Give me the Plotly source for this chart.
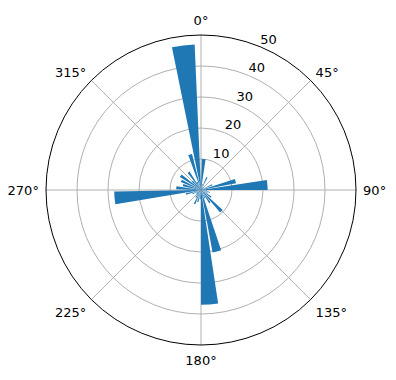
import plotly.graph_objects as go

# bar centers (degrees, clockwise from north), radii and widths
theta = [5, 15, 25, 35, 45, 55, 65, 75.5, 85.7, 95, 105, 115, 125, 136, 145, 155,
         165.5, 175.7, 185, 195, 205, 215, 225, 235, 245, 255, 264.8, 275, 285, 295,
         305, 315, 325, 333, 343, 353]
radii = [10, 2, 4.5, 1, 1.5, 1, 4, 11.5, 21.5, 2, 3, 2.5, 4, 9.5, 5, 3,
         20.5, 37, 3, 4, 5, 3, 2, 2, 3, 5, 28, 8, 6, 7,
         8, 4, 7, 3, 12, 47]
widths = [7, 6, 5, 5, 5, 5, 6, 7, 8.7, 5, 5, 5, 6, 7, 6, 6,
          8, 8.6, 6, 6, 6, 6, 6, 6, 6, 6, 8.5, 7, 7, 7,
          7, 7, 6, 6, 6, 9]
r_ticks = [10, 20, 30, 40, 50]
r_label_angle = 22.5

fig = go.Figure()
fig.add_trace(go.Barpolar(
    r=radii, theta=theta, width=widths,
    marker=dict(color="#1f77b4", line=dict(width=0)),
    hoverinfo="skip",
))
# radial tick labels, horizontal, placed at 22.5° like matplotlib
fig.add_trace(go.Scatterpolar(
    r=r_ticks, theta=[r_label_angle] * len(r_ticks),
    text=[str(v) for v in r_ticks], mode="text",
    textposition="top right",
    textfont=dict(family="DejaVu Sans", size=13, color="black"),
    hoverinfo="skip", cliponaxis=False,
))

fig.update_layout(
    width=396, height=380,
    margin=dict(l=0, r=0, t=0, b=0),
    paper_bgcolor="white",
    showlegend=False,
    font=dict(family="DejaVu Sans", size=13, color="black"),
    polar=dict(
        domain=dict(x=[46/396, 356/396], y=[35/380, 345/380]),
        bgcolor="white",
        bargap=0,
        angularaxis=dict(
            rotation=90, direction="clockwise",
            tickmode="linear", tick0=0, dtick=45, ticksuffix="°",
            ticks="outside", ticklen=4, tickcolor="rgba(0,0,0,0)",
            showline=True, linecolor="black", linewidth=1,
            gridcolor="#b0b0b0", gridwidth=0.8, layer="above traces",
            tickfont=dict(size=13),
        ),
        radialaxis=dict(
            range=[0, 50], tickvals=r_ticks, showticklabels=False,
            showline=False, ticks="", gridcolor="#b0b0b0", gridwidth=0.8,
            layer="above traces",
        ),
    ),
)

fig.write_html("out.html")
